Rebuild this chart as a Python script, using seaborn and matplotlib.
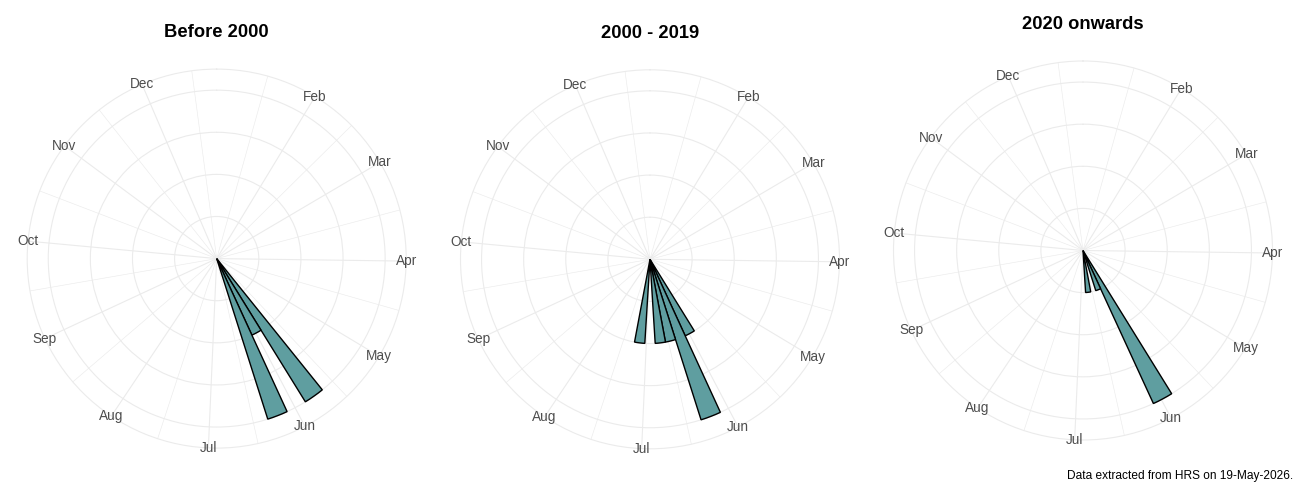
import numpy as np
import pandas as pd
import matplotlib
matplotlib.use("Agg")
import matplotlib.pyplot as plt
import seaborn as sns

# ---------------- data ----------------
panel_titles = ["Before 2000", "2000 - 2019", "2020 onwards"]

weeks_before_2000 = [21, 22, 23]
counts_before_2000 = [2, 1, 2]

weeks_2000_2019 = [22, 23, 24, 25, 27]
counts_2000_2019 = [1, 2, 1, 1, 1]

weeks_2020_on = [22, 23, 25]
counts_2020_on = [4, 1, 1]

month_labels = ["Jan", "Feb", "Mar", "Apr", "May", "Jun",
                "Jul", "Aug", "Sep", "Oct", "Nov", "Dec"]
month_start_doy = [1, 32, 60, 91, 121, 152, 182, 213, 244, 274, 305, 335]

caption = "Data extracted from HRS on 19-May-2026."

# ---------------- style ----------------
sns.set_theme(style="white")
plt.rcParams["font.family"] = ["Liberation Sans", "DejaVu Sans"]

GRID = "#EBEBEB"
FILL = "#5F9EA0"
LABEL_COL = "#4D4D4D"

WEEK_MIN, WEEK_MAX = 1, 52


def week_to_theta(w):
    return (np.asarray(w, dtype=float) - WEEK_MIN) / (WEEK_MAX - WEEK_MIN) * 2 * np.pi


month_weeks = (np.array(month_start_doy) - 1) / 7.0 + 1
ext = np.append(month_weeks, month_weeks[-1] + (month_weeks[1] - month_weeks[0]))
minor_weeks = (ext[:-1] + ext[1:]) / 2.0
minor_weeks = minor_weeks[minor_weeks <= WEEK_MAX]

panels = [
    (weeks_before_2000, counts_before_2000),
    (weeks_2000_2019, counts_2000_2019),
    (weeks_2020_on, counts_2020_on),
]

fig = plt.figure(figsize=(13, 5), dpi=100)
W, H = 1300.0, 500.0
R = 189.5
centers = [(216.7, 258.6), (650.0, 259.3), (1083.0, 250.5)]
week_width = float(week_to_theta(WEEK_MIN + 1))

for (title, (weeks, counts), (cx, cy)) in zip(panel_titles, panels, centers):
    rect = [(cx - R) / W, (H - cy - R) / H, 2 * R / W, 2 * R / H]
    ax = fig.add_axes(rect, projection="polar")
    ax.set_theta_zero_location("N")
    ax.set_theta_direction(-1)
    ax.set_axisbelow(True)

    df = pd.DataFrame({"week": weeks, "count": counts})
    df["theta"] = week_to_theta(df["week"] + 0.5)
    lo = float(week_to_theta(min(weeks)))
    hi = float(week_to_theta(max(weeks) + 1))

    sns.histplot(data=df, x="theta", weights="count",
                 binwidth=week_width, binrange=(lo, hi), ax=ax,
                 color=FILL, edgecolor="black", linewidth=1.0, alpha=1,
                 stat="count")
    for p in ax.patches:
        if p.get_height() == 0:
            p.set_visible(False)

    ymax = max(counts)
    ax.set_ylim(0, ymax * 0.45 / 0.4)
    ax.set_yticks(np.linspace(0, ymax, 5))
    ax.set_yticklabels([])

    ax.set_xticks(week_to_theta(month_weeks[1:]))
    ax.set_xticklabels([])
    ax.set_xticks(week_to_theta(minor_weeks), minor=True)
    ax.tick_params(length=0)
    ax.grid(True, which="major", axis="both", color=GRID, linewidth=0.8)
    ax.grid(True, which="minor", axis="x", color=GRID, linewidth=0.45)
    ax.spines["polar"].set_color(GRID)
    ax.spines["polar"].set_linewidth(0.8)
    ax.set_xlabel("")
    ax.set_ylabel("")

    for lab, mw in zip(month_labels[1:], month_weeks[1:]):
        ax.annotate(lab, xy=(week_to_theta(mw), 1.0),
                    xycoords=ax.get_xaxis_transform(),
                    xytext=(0, 0), textcoords="offset points",
                    ha="center", va="center", fontsize=9.8,
                    color=LABEL_COL, annotation_clip=False)

    ax.set_title(title, fontsize=13.2, fontweight="bold", color="black",
                 y=1.0, pad=23)

fig.text(1293 / W, 1 - 476 / H, caption, ha="right", va="center",
         fontsize=8.6, color="black")

fig.savefig("out.png", dpi=100, facecolor="white")
